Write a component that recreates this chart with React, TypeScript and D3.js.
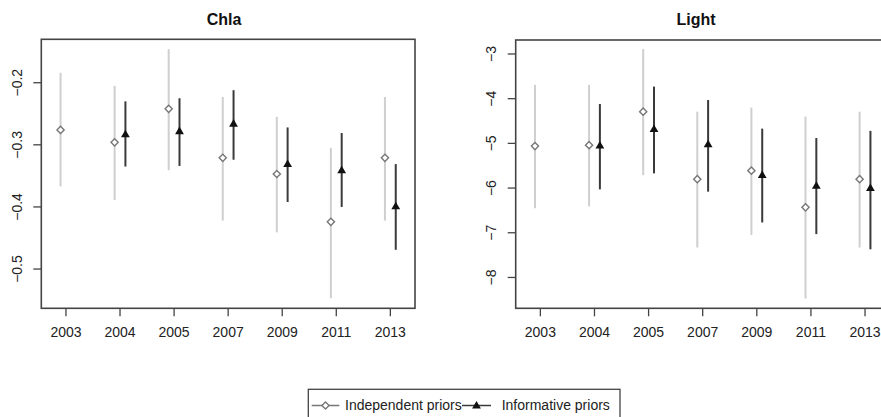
import React from 'react';
import * as d3 from 'd3';

// Years shown on the x axis
const years = ['2003', '2004', '2005', '2007', '2009', '2011', '2013'];

// Chla — independent priors (mean, lower, upper)
const chlaIndMean = [-0.276, -0.296, -0.242, -0.321, -0.347, -0.424, -0.321];
const chlaIndLo = [-0.367, -0.389, -0.341, -0.422, -0.441, -0.547, -0.422];
const chlaIndHi = [-0.184, -0.205, -0.146, -0.223, -0.255, -0.305, -0.223];
// Chla — informative priors (no 2003)
const chlaInfMean = [null, -0.283, -0.278, -0.266, -0.331, -0.341, -0.399];
const chlaInfLo = [null, -0.335, -0.334, -0.324, -0.392, -0.400, -0.469];
const chlaInfHi = [null, -0.230, -0.225, -0.212, -0.272, -0.281, -0.331];

// Light — independent priors
const lightIndMean = [-5.06, -5.04, -4.29, -5.80, -5.61, -6.43, -5.80];
const lightIndLo = [-6.45, -6.41, -5.71, -7.33, -7.05, -8.47, -7.33];
const lightIndHi = [-3.69, -3.69, -2.89, -4.29, -4.20, -4.40, -4.29];
// Light — informative priors
const lightInfMean = [null, -5.05, -4.68, -5.02, -5.71, -5.95, -6.00];
const lightInfLo = [null, -6.03, -5.67, -6.08, -6.77, -7.03, -7.37];
const lightInfHi = [null, -4.12, -3.73, -4.03, -4.67, -4.88, -4.72];

const chlaTicks = [-0.5, -0.4, -0.3, -0.2];
const lightTicks = [-8, -7, -6, -5, -4, -3];

const FONT = 'Liberation Sans, Arial, Helvetica, sans-serif';
const IND_LINE = '#cfcfcf';
const IND_PT = '#777';
const INF_LINE = '#3a3a3a';

type Num = number | null;

interface PanelProps {
  title: string;
  titleX: number;
  left: number;
  right: number;
  top: number;
  bottom: number;
  yDomain: [number, number];
  yTicks: number[];
  yFmt: (v: number) => string;
  labelX: number;
  indMean: Num[];
  indLo: Num[];
  indHi: Num[];
  infMean: Num[];
  infLo: Num[];
  infHi: Num[];
}

const Diamond = ({ x, y }: { x: number; y: number }) => (
  <path
    d={`M${x},${y - 3.6}L${x + 3.6},${y}L${x},${y + 3.6}L${x - 3.6},${y}Z`}
    fill="#fff"
    stroke={IND_PT}
    strokeWidth={1.4}
  />
);

const Triangle = ({ x, y }: { x: number; y: number }) => (
  <path d={`M${x},${y - 4.6}L${x + 4.4},${y + 3}L${x - 4.4},${y + 3}Z`} fill="#111" />
);

const Panel: React.FC<PanelProps> = (p) => {
  const x = d3.scaleLinear().domain([0.544, 7.456]).range([p.left, p.right]);
  const y = d3.scaleLinear().domain(p.yDomain).range([p.bottom, p.top]);
  const off = 0.1;

  return (
    <g fontFamily={FONT}>
      <text x={p.titleX} y={24.5} textAnchor="middle" fontSize={16} fontWeight="bold" fill="#111">
        {p.title}
      </text>

      {/* independent priors */}
      {years.map((_, i) => {
        const m = p.indMean[i];
        if (m == null) return null;
        const cx = x(i + 1 - off);
        return (
          <g key={'ind' + i}>
            <line x1={cx} x2={cx} y1={y(p.indLo[i]!)} y2={y(p.indHi[i]!)} stroke={IND_LINE} strokeWidth={2} />
            <Diamond x={cx} y={y(m)} />
          </g>
        );
      })}

      {/* informative priors */}
      {years.map((_, i) => {
        const m = p.infMean[i];
        if (m == null) return null;
        const cx = x(i + 1 + off);
        return (
          <g key={'inf' + i}>
            <line x1={cx} x2={cx} y1={y(p.infLo[i]!)} y2={y(p.infHi[i]!)} stroke={INF_LINE} strokeWidth={2} />
            <Triangle x={cx} y={y(m)} />
          </g>
        );
      })}

      <rect
        x={p.left}
        y={p.top}
        width={p.right - p.left}
        height={p.bottom - p.top}
        fill="none"
        stroke="#444"
        strokeWidth={1.6}
      />

      {/* x axis */}
      {years.map((yr, i) => (
        <g key={yr}>
          <line x1={x(i + 1)} x2={x(i + 1)} y1={p.bottom} y2={p.bottom + 8} stroke="#444" strokeWidth={1.3} />
          <text x={x(i + 1)} y={336.5} textAnchor="middle" fontSize={14} fill="#222">
            {yr}
          </text>
        </g>
      ))}

      {/* y axis */}
      {p.yTicks.map((t) => (
        <g key={t}>
          <line x1={p.left - 8} x2={p.left} y1={y(t)} y2={y(t)} stroke="#444" strokeWidth={1.3} />
          <text
            transform={`translate(${p.labelX},${y(t)}) rotate(-90)`}
            textAnchor="middle"
            fontSize={14}
            fill="#222"
          >
            {p.yFmt(t)}
          </text>
        </g>
      ))}
    </g>
  );
};

const App: React.FC = () => {
  return (
    <svg
      width={881}
      height={417}
      style={{ position: 'absolute', left: 0, top: 0, background: '#fff' }}
    >
      <rect width={881} height={417} fill="#fff" />
      <Panel
        title="Chla"
        titleX={224}
        left={41.3}
        right={415}
        top={39.3}
        bottom={308.3}
        yDomain={[-0.5632, -0.1301]}
        yTicks={chlaTicks}
        yFmt={d3.format('.1f')}
        labelX={22}
        indMean={chlaIndMean}
        indLo={chlaIndLo}
        indHi={chlaIndHi}
        infMean={chlaInfMean}
        infLo={chlaInfLo}
        infHi={chlaInfHi}
      />
      <Panel
        title="Light"
        titleX={696}
        left={515.7}
        right={889.7}
        top={40}
        bottom={308.3}
        yDomain={[-8.69, -2.687]}
        yTicks={lightTicks}
        yFmt={d3.format('d')}
        labelX={496}
        indMean={lightIndMean}
        indLo={lightIndLo}
        indHi={lightIndHi}
        infMean={lightInfMean}
        infLo={lightInfLo}
        infHi={lightInfHi}
      />

      {/* legend */}
      <g fontFamily={FONT}>
        <rect x={308.3} y={389.3} width={311.7} height={40} fill="#fff" stroke="#444" strokeWidth={1.3} />
        <line x1={311.7} x2={339.3} y1={405.5} y2={405.5} stroke={IND_PT} strokeWidth={1.5} />
        <Diamond x={325.5} y={405.5} />
        <text x={345} y={409.5} fontSize={14} fill="#222">Independent priors</text>
        <line x1={462} x2={491} y1={405.5} y2={405.5} stroke={INF_LINE} strokeWidth={1.5} />
        <Triangle x={476.5} y={405.5} />
        <text x={501.7} y={409.5} fontSize={14} fill="#222">Informative priors</text>
      </g>
    </svg>
  );
};

export default App;
